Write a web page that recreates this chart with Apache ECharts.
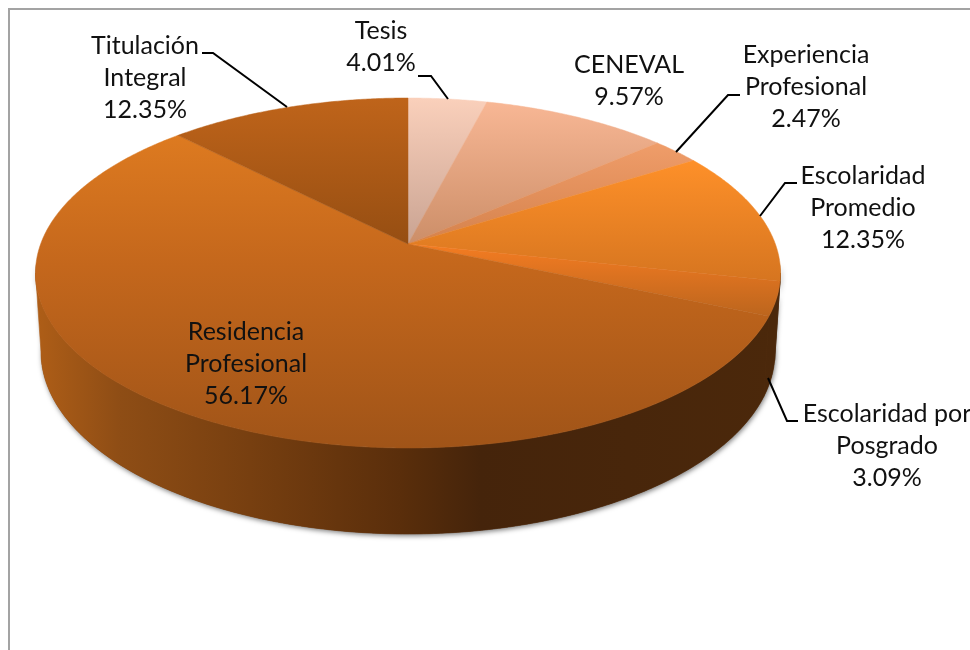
<!DOCTYPE html>
<html>
<head>
<meta charset="utf-8">
<style>html,body{margin:0;padding:0;background:#fff}#c{width:970px;height:650px}</style>
<script src="https://cdn.jsdelivr.net/npm/echarts@6/dist/echarts.min.js"></script>
</head>
<body>
<div id="c"></div>
<script>
// ---- data ----
const categories = ['Tesis', 'CENEVAL', 'Experiencia\nProfesional', 'Escolaridad\nPromedio', 'Escolaridad por\nPosgrado', 'Residencia\nProfesional', 'Titulación\nIntegral'];
const values = [4.01, 9.57, 2.47, 12.35, 3.09, 56.17, 12.35];

// ---- look ----
const topStops = [
  [[98, '#fad0bb'], [244, '#c9a392']],
  [[98, '#f9b896'], [244, '#cc8e68']],
  [[98, '#fba977'], [244, '#d5824c']],
  [[160, '#fe9029'], [290, '#d3731f']],
  [[244, '#f47c22'], [320, '#b9641d']],
  [[137, '#dd7a20'], [265, '#c4671c'], [448, '#a05418']],
  [[98, '#bf641a'], [244, '#964e12']]
];
const wallStops = [[40, '#ad5d17'], [120, '#8e4d15'], [250, '#773f10'], [400, '#5a2e0b'], [480, '#45240b'], [776, '#4b280b']];
const labelSpots = [[381, 47], [629, 81], [806, 87], [863, 208], [887, 446], [246, 364], [145, 78]];
const leaderPaths = [
  [[418, 76], [431, 76], [448, 99]],
  null,
  [[740, 95], [728, 95], [676, 152]],
  [[797, 183], [785, 183], [760, 216]],
  [[798, 421], [787, 421], [768, 378]],
  null,
  [[202, 53], [213, 53], [287, 107]]
];

// ---- pie projection: a tilted circle seen in perspective ----
const CX = 408, APEX_Y = 244, BACK_Y = 98, FRONT_Y = 448, HALF_W = 372.5;
const k = (BACK_Y + FRONT_Y - 2 * APEX_Y) / (FRONT_Y - BACK_Y);
const a = BACK_Y + BACK_Y * k - APEX_Y;
const A = HALF_W * Math.sqrt(1 - k * k);
const TOP_MID = (BACK_Y + FRONT_Y) / 2;
const WALL_MID = 352, WALL_SX = 367 / 372.5, WALL_SY = 182 / 175;

function topPoint(t) {
  const u = Math.sin(t), v = Math.cos(t), w = 1 + k * v;
  return [CX + A * u / w, (a * v + APEX_Y) / w];
}
function wallPoint(t) {
  const p = topPoint(t);
  return [CX + (p[0] - CX) * WALL_SX, WALL_MID + (p[1] - TOP_MID) * WALL_SY];
}
const total = values.reduce((s, v) => s + v, 0);
function angles(i) {
  let s = 0;
  for (let j = 0; j < i; j++) s += values[j];
  return [s / total * Math.PI * 2, (s + values[i]) / total * Math.PI * 2];
}
function sample(t0, t1) {
  const out = [], n = Math.max(2, Math.ceil((t1 - t0) / 0.008));
  for (let i = 0; i <= n; i++) out.push(t0 + (t1 - t0) * i / n);
  return out;
}
function vGrad(stops) {
  const y0 = stops[0][0], y1 = stops[stops.length - 1][0];
  return { type: 'linear', x: 0, y: y0, x2: 0, y2: y1, global: true,
    colorStops: stops.map(s => ({ offset: (s[0] - y0) / (y1 - y0), color: s[1] })) };
}
const wallGrad = { type: 'linear', x: 40, y: 0, x2: 776, y2: 0, global: true,
  colorStops: wallStops.map(s => ({ offset: (s[0] - 40) / 736, color: s[1] })) };
const FRONT0 = Math.acos(-k), FRONT1 = 2 * Math.PI - FRONT0;

function wallPolygon(t0, t1) {
  const ts = sample(t0, t1);
  return ts.map(topPoint).concat(ts.slice().reverse().map(wallPoint));
}

const rowData = values.map((v, i) => ({ name: categories[i].replace('\n', ' '), value: [v] }));

const option = {
  animation: false,
  backgroundColor: '#fff',
  graphic: [{
    type: 'polyline', silent: true,
    shape: { points: [[9, 650], [9, 9], [970, 9]] },
    style: { stroke: '#a3a3a3', lineWidth: 2, fill: 'none' }
  }],
  series: [
    { // soft shadow beneath the whole rim
      type: 'custom', coordinateSystem: 'none', silent: true, z: 1,
      data: [[total]],
      renderItem() {
        return { type: 'polygon', shape: { points: wallPolygon(FRONT0 - 0.05, FRONT1 + 0.05) },
          style: { fill: '#6b3a10', shadowBlur: 5, shadowColor: 'rgba(0,0,0,0.5)', shadowOffsetX: 1, shadowOffsetY: 2 } };
      }
    },
    { // rim of each slice
      type: 'custom', coordinateSystem: 'none', silent: true, z: 2,
      data: rowData,
      renderItem(params) {
        const r = angles(params.dataIndex);
        const t0 = Math.max(r[0], FRONT0), t1 = Math.min(r[1], FRONT1);
        if (t1 <= t0) return null;
        return { type: 'polygon', shape: { points: wallPolygon(t0, t1) },
          style: { fill: wallGrad, stroke: wallGrad, lineWidth: 0.6 } };
      }
    },
    { // top face of each slice
      type: 'custom', coordinateSystem: 'none', silent: true, z: 3,
      data: rowData,
      renderItem(params, api) {
        const i = params.dataIndex;
        const r = angles(i);
        r[1] = r[0] + api.value(0) / total * Math.PI * 2;
        const pts = [[CX, APEX_Y]].concat(sample(r[0], r[1]).map(topPoint));
        const g = vGrad(topStops[i]);
        return { type: 'polygon', shape: { points: pts }, style: { fill: g, stroke: g, lineWidth: 0.5 } };
      }
    },
    { // labels and leader lines
      type: 'custom', coordinateSystem: 'none', silent: true, z: 5,
      data: rowData,
      renderItem(params, api) {
        const i = params.dataIndex;
        const kids = [{
          type: 'text',
          style: { x: labelSpots[i][0], y: labelSpots[i][1],
            text: categories[i] + '\n' + api.value(0).toFixed(2) + '%',
            font: '25px Lato', fill: '#111', align: 'center', verticalAlign: 'middle', lineHeight: 32 }
        }];
        if (leaderPaths[i]) kids.push({ type: 'polyline', shape: { points: leaderPaths[i] },
          style: { stroke: '#000', lineWidth: 2, fill: 'none' } });
        return { type: 'group', children: kids };
      }
    }
  ]
};
echarts.init(document.getElementById('c'), null, { renderer: 'canvas' }).setOption(option);
</script>
</body>
</html>
